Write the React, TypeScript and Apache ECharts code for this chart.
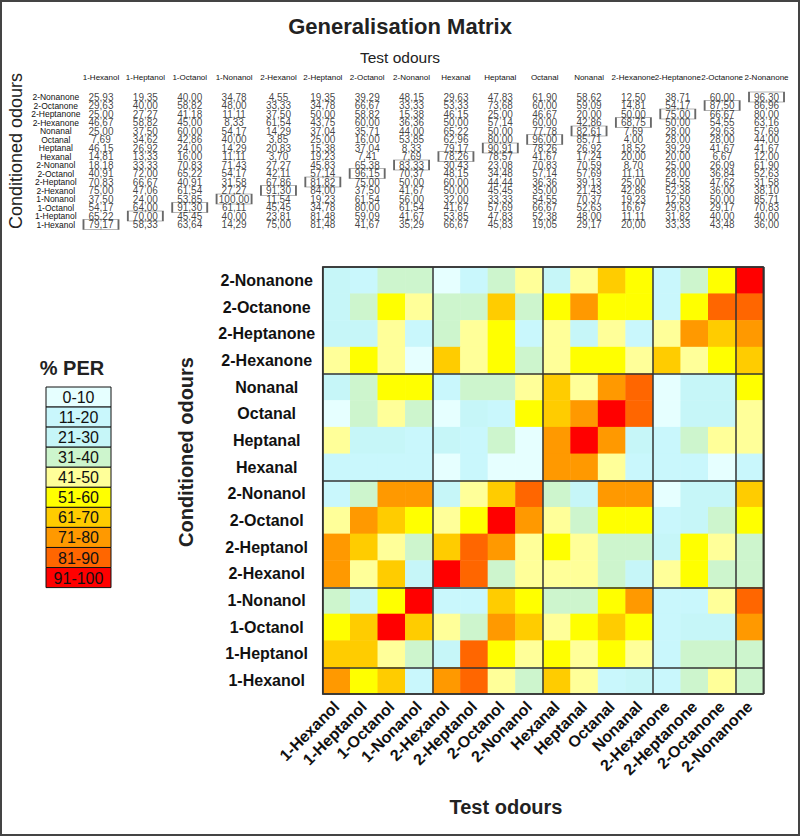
import React, { useEffect, useRef } from 'react';
import * as echarts from 'echarts';

const testOdours = ['1-Hexanol', '1-Heptanol', '1-Octanol', '1-Nonanol', '2-Hexanol', '2-Heptanol', '2-Octanol', '2-Nonanol', 'Hexanal', 'Heptanal', 'Octanal', 'Nonanal', '2-Hexanone', '2-Heptanone', '2-Octanone', '2-Nonanone'];
const conditionedOdours = ['2-Nonanone', '2-Octanone', '2-Heptanone', '2-Hexanone', 'Nonanal', 'Octanal', 'Heptanal', 'Hexanal', '2-Nonanol', '2-Octanol', '2-Heptanol', '2-Hexanol', '1-Nonanol', '1-Octanol', '1-Heptanol', '1-Hexanol'];

const per2Nonanone = [25.93, 19.35, 40.0, 34.78, 4.55, 19.35, 39.29, 48.15, 29.63, 47.83, 61.9, 58.62, 12.5, 38.71, 60.0, 96.3];
const per2Octanone = [29.63, 40.0, 58.82, 48.0, 33.33, 34.78, 66.67, 33.33, 53.33, 73.68, 60.0, 59.09, 14.81, 54.17, 87.5, 86.96];
const per2Heptanone = [25.0, 27.27, 41.18, 11.11, 37.5, 50.0, 58.82, 15.38, 46.15, 25.0, 46.67, 20.0, 50.0, 75.0, 66.67, 80.0];
const per2Hexanone = [46.67, 58.82, 45.0, 8.33, 61.54, 43.75, 60.0, 36.36, 50.0, 57.14, 60.0, 42.86, 68.75, 50.0, 54.55, 63.16];
const perNonanal = [25.0, 37.5, 60.0, 54.17, 14.29, 37.04, 35.71, 44.0, 65.22, 50.0, 77.78, 82.61, 7.69, 28.0, 29.63, 57.69];
const perOctanal = [7.69, 34.62, 42.86, 40.0, 3.85, 25.0, 16.0, 53.85, 62.96, 80.0, 96.0, 85.71, 4.0, 28.0, 28.0, 44.0];
const perHeptanal = [46.15, 26.92, 24.0, 14.29, 20.83, 15.38, 37.04, 8.33, 79.17, 90.91, 78.26, 26.92, 18.52, 39.29, 41.67, 41.67];
const perHexanal = [14.81, 13.33, 16.0, 11.11, 3.7, 19.23, 7.41, 7.69, 78.26, 78.57, 41.67, 17.24, 20.0, 20.0, 6.67, 12.0];
const per2Nonanol = [18.18, 33.33, 70.83, 71.43, 27.27, 45.83, 65.38, 83.33, 30.43, 23.08, 70.83, 70.59, 8.7, 25.0, 26.09, 61.9];
const per2Octanol = [40.91, 72.0, 65.22, 54.17, 42.11, 57.14, 96.15, 70.37, 48.15, 34.48, 57.14, 57.69, 11.11, 28.0, 36.84, 52.63];
const per2Heptanol = [70.83, 66.67, 40.91, 31.58, 67.86, 81.82, 75.0, 50.0, 60.0, 44.44, 36.36, 39.13, 25.0, 54.55, 47.62, 31.58];
const per2Hexanol = [75.0, 47.06, 61.54, 27.27, 91.3, 84.0, 37.5, 41.67, 50.0, 45.45, 35.0, 21.43, 42.86, 52.38, 36.0, 38.1];
const per1Nonanol = [37.5, 24.0, 53.85, 100.0, 11.54, 19.23, 61.54, 56.0, 32.0, 33.33, 54.55, 70.37, 19.23, 12.5, 50.0, 85.71];
const per1Octanol = [54.17, 64.0, 91.3, 61.11, 45.45, 34.78, 80.0, 61.54, 41.67, 57.69, 66.67, 52.63, 16.67, 29.63, 29.17, 70.83];
const per1Heptanol = [65.22, 70.0, 45.45, 40.0, 23.81, 81.48, 59.09, 41.67, 53.85, 47.83, 52.38, 48.0, 11.11, 31.82, 40.0, 40.0];
const per1Hexanol = [79.17, 58.33, 63.64, 14.29, 75.0, 81.48, 41.67, 35.29, 66.67, 45.83, 19.05, 29.17, 20.0, 33.33, 43.48, 36.0];

const perRows = [per2Nonanone, per2Octanone, per2Heptanone, per2Hexanone, perNonanal, perOctanal, perHeptanal, perHexanal, per2Nonanol, per2Octanol, per2Heptanol, per2Hexanol, per1Nonanol, per1Octanol, per1Heptanol, per1Hexanol];

const pieceLabels = ['0-10', '11-20', '21-30', '31-40', '41-50', '51-60', '61-70', '71-80', '81-90', '91-100'];
const pieceBounds = [0, 10, 20, 30, 40, 50, 60, 70, 80, 90, 100];
const pieceColors = ['#e6ffff', '#c9f7fc', '#c6f6f8', '#cdf5cd', '#ffff99', '#ffff00', '#ffcc00', '#ff9900', '#ff6600', '#ff0000'];

const FONT = '"Liberation Sans", Arial, Helvetica, sans-serif';

export default function App() {
  const ref = useRef<HTMLDivElement>(null);

  useEffect(() => {
    if (!ref.current) return;
    const chart = echarts.init(ref.current, undefined, { renderer: 'svg' });

    const cells: number[][] = [];
    const diag: number[][] = [];
    perRows.forEach((row, r) => {
      row.forEach((v, c) => cells.push([c, r, v]));
      const c = testOdours.indexOf(conditionedOdours[r]);
      if (c >= 0) diag.push([c, r, row[c]]);
    });

    const pieces = pieceLabels.map((label, i) => ({
      ...(i === 0 ? { gte: pieceBounds[i] } : { gt: pieceBounds[i] }),
      lte: pieceBounds[i + 1],
      color: pieceColors[i],
      label,
    }));

    const legBoxX = 46;
    const legBoxY = 387;
    const legBoxW = 65;
    const legBoxH = 20.06;
    const legendEls: any[] = [
      {
        type: 'text',
        x: 72,
        y: 368,
        style: { text: '% PER', font: `bold 20px ${FONT}`, fill: '#222', align: 'center', verticalAlign: 'middle' },
      },
    ];
    pieceLabels.forEach((label, i) => {
      legendEls.push({
        type: 'rect',
        shape: { x: legBoxX, y: legBoxY + i * legBoxH, width: legBoxW, height: legBoxH },
        style: { fill: pieceColors[i], stroke: '#111', lineWidth: 1 },
      });
      legendEls.push({
        type: 'text',
        x: legBoxX + legBoxW / 2,
        y: legBoxY + i * legBoxH + legBoxH / 2 + 0.5,
        style: { text: label, font: `16px ${FONT}`, fill: '#111', align: 'center', verticalAlign: 'middle' },
      });
    });

    const option: any = {
      animation: false,
      backgroundColor: '#ffffff',
      textStyle: { fontFamily: FONT },
      title: [
        {
          text: 'Generalisation Matrix',
          left: 'center',
          top: 10,
          textStyle: { fontSize: 22, fontWeight: 'bold', color: '#222', fontFamily: FONT },
        },
        {
          text: 'Test odours',
          left: 'center',
          top: 44,
          textStyle: { fontSize: 15.5, fontWeight: 'normal', color: '#222', fontFamily: FONT },
        },
      ],
      grid: [
        { left: 78.8, top: 92.75, width: 709.9, height: 136, show: false },
        { left: 322.7, top: 267, width: 440.6, height: 427, show: true, borderColor: '#333', borderWidth: 1.5, backgroundColor: 'transparent', z: 5 },
      ],
      xAxis: [
        {
          type: 'category',
          gridIndex: 0,
          position: 'top',
          data: testOdours,
          axisLine: { show: false },
          axisTick: { show: false },
          splitLine: { show: false },
          axisLabel: { interval: 0, fontSize: 8, color: '#111', margin: 11, fontFamily: FONT },
        },
        {
          type: 'category',
          gridIndex: 1,
          position: 'bottom',
          data: testOdours,
          z: 5,
          axisLine: { show: false },
          axisTick: { show: false },
          splitLine: { show: true, interval: 3, lineStyle: { color: '#333', width: 1.5 } },
          axisLabel: { interval: 0, rotate: 45, fontSize: 16, fontWeight: 'bold', color: '#111', margin: 10, fontFamily: FONT },
        },
      ],
      yAxis: [
        {
          type: 'category',
          gridIndex: 0,
          inverse: true,
          data: conditionedOdours,
          axisLine: { show: false },
          axisTick: { show: false },
          splitLine: { show: false },
          axisLabel: { interval: 0, fontSize: 8.5, lineHeight: 8, color: '#111', margin: 23, align: 'center', fontFamily: FONT },
        },
        {
          type: 'category',
          gridIndex: 1,
          inverse: true,
          data: conditionedOdours,
          z: 5,
          axisLine: { show: false },
          axisTick: { show: false },
          splitLine: { show: true, interval: 3, lineStyle: { color: '#333', width: 1.5 } },
          axisLabel: { interval: 0, fontSize: 16, fontWeight: 'bold', color: '#111', margin: 56, align: 'center', fontFamily: FONT },
        },
      ],
      visualMap: {
        type: 'piecewise',
        show: false,
        seriesIndex: 2,
        dimension: 2,
        pieces,
      },
      series: [
        {
          type: 'scatter',
          xAxisIndex: 0,
          yAxisIndex: 0,
          symbolSize: 0,
          data: cells,
          silent: true,
          label: {
            show: true,
            position: 'inside',
            fontSize: 10,
            lineHeight: 8,
            color: '#111',
            fontFamily: FONT,
            formatter: (p: any) => p.value[2].toFixed(2).replace('.', ','),
          },
        },
        {
          type: 'scatter',
          xAxisIndex: 0,
          yAxisIndex: 0,
          symbol: 'rect',
          symbolSize: [35, 10],
          data: diag,
          silent: true,
          itemStyle: { color: 'rgba(0,0,0,0)', borderColor: '#444', borderWidth: 1 },
        },
        {
          type: 'heatmap',
          xAxisIndex: 1,
          yAxisIndex: 1,
          data: cells,
          silent: true,
          itemStyle: { borderWidth: 0 },
          emphasis: { disabled: true },
        },
      ],
      graphic: [
        {
          type: 'rect',
          shape: { x: 1, y: 1, width: 798, height: 834 },
          style: { fill: 'none', stroke: '#444', lineWidth: 2 },
          silent: true,
        },
        {
          type: 'text',
          x: 16,
          y: 151,
          rotation: Math.PI / 2,
          style: { text: 'Conditioned odours', font: `18px ${FONT}`, fill: '#222', align: 'center', verticalAlign: 'middle' },
        },
        {
          type: 'text',
          x: 186,
          y: 452,
          rotation: Math.PI / 2,
          style: { text: 'Conditioned odours', font: `bold 20px ${FONT}`, fill: '#222', align: 'center', verticalAlign: 'middle' },
        },
        {
          type: 'text',
          x: 506,
          y: 807,
          style: { text: 'Test odours', font: `bold 20px ${FONT}`, fill: '#222', align: 'center', verticalAlign: 'middle' },
        },
        ...legendEls,
      ],
    };

    chart.setOption(option);
    return () => chart.dispose();
  }, []);

  return <div ref={ref} style={{ position: 'fixed', left: 0, top: 0, width: 800, height: 836 }} />;
}
